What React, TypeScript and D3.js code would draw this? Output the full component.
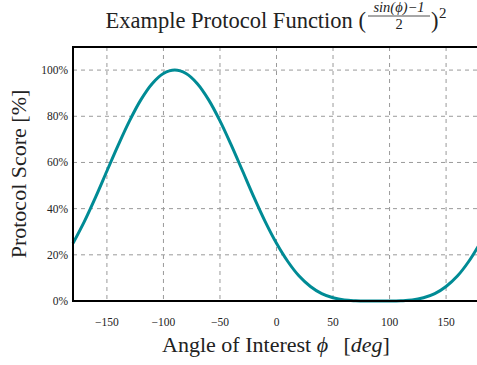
import React, { useEffect, useRef } from 'react';
import * as d3 from 'd3';

// angle of interest (deg) and protocol score (%)
const angles = [
  -180, -170, -160, -150, -140, -130, -120, -110, -100, -90,
  -80, -70, -60, -50, -40, -30, -20, -10, 0,
  10, 20, 30, 40, 50, 60, 70, 80, 90,
  100, 110, 120, 130, 140, 150, 160, 170, 180,
];
const scores = [
  25, 34.4, 45, 56.3, 67.5, 78, 87.1, 94.1, 98.5, 100,
  98.5, 94.1, 87.1, 78, 67.5, 56.3, 45, 34.4, 25,
  17.1, 10.8, 6.3, 3.2, 1.4, 0.4, 0.1, 0, 0,
  0, 0.1, 0.4, 1.4, 3.2, 6.3, 10.8, 17.1, 25,
];
const xTicks = [-150, -100, -50, 0, 50, 100, 150];
const yTicks = [0, 20, 40, 60, 80, 100];

const FONT = '"Liberation Serif", "DejaVu Serif", serif';
const INK = '#222';

const App = () => {
  const svgRef = useRef<SVGSVGElement>(null);

  useEffect(() => {
    const width = 477;
    const height = 365;
    const margin = { top: 47, right: -3, bottom: 64, left: 73 };
    const w = width - margin.left - margin.right;
    const h = height - margin.top - margin.bottom;

    const svg = d3.select(svgRef.current);
    svg.selectAll('*').remove();

    const g = svg.append('g').attr('transform', `translate(${margin.left},${margin.top})`);

    const x = d3.scaleLinear().domain([-180, 180]).range([0, w]);
    const y = d3.scaleLinear().domain([0, 110]).range([h, 0]);

    // grid
    g.selectAll('.vgrid')
      .data(xTicks)
      .join('line')
      .attr('x1', d => x(d))
      .attr('x2', d => x(d))
      .attr('y1', 0)
      .attr('y2', h)
      .attr('stroke', '#9a9a9a')
      .attr('stroke-dasharray', '4,4')
      .attr('stroke-width', 1);

    g.selectAll('.hgrid')
      .data(yTicks.filter(d => d > 0))
      .join('line')
      .attr('x1', 0)
      .attr('x2', w)
      .attr('y1', d => y(d))
      .attr('y2', d => y(d))
      .attr('stroke', '#9a9a9a')
      .attr('stroke-dasharray', '4,4')
      .attr('stroke-width', 1);

    // curve
    const pts = angles.map((a, i) => [a, scores[i]] as [number, number]);
    const line = d3.line<[number, number]>()
      .x(d => x(d[0]))
      .y(d => y(d[1]))
      .curve(d3.curveCatmullRom);

    g.append('path')
      .datum(pts)
      .attr('fill', 'none')
      .attr('stroke', '#008b95')
      .attr('stroke-width', 3)
      .attr('d', line);

    // spines (left, top, bottom)
    g.append('line').attr('x1', 0).attr('x2', 0).attr('y1', 0).attr('y2', h)
      .attr('stroke', '#000').attr('stroke-width', 2);
    g.append('line').attr('x1', -1).attr('x2', w).attr('y1', 0).attr('y2', 0)
      .attr('stroke', '#000').attr('stroke-width', 2);
    g.append('line').attr('x1', -1).attr('x2', w).attr('y1', h).attr('y2', h)
      .attr('stroke', '#000').attr('stroke-width', 2);

    // tick labels
    g.selectAll('.xlab')
      .data(xTicks)
      .join('text')
      .attr('x', d => x(d))
      .attr('y', h + 25)
      .attr('text-anchor', 'middle')
      .style('font-family', FONT)
      .style('font-size', '11.5px')
      .style('fill', INK)
      .text(d => (d < 0 ? '\u2212' + Math.abs(d) : String(d)));

    g.selectAll('.ylab')
      .data(yTicks)
      .join('text')
      .attr('x', -5)
      .attr('y', d => y(d))
      .attr('dy', '0.35em')
      .attr('text-anchor', 'end')
      .style('font-family', FONT)
      .style('font-size', '11.5px')
      .style('fill', INK)
      .text(d => d + '%');

    // axis titles
    const xt = svg.append('text')
      .attr('x', 276)
      .attr('y', 352)
      .attr('text-anchor', 'middle')
      .style('font-family', FONT)
      .style('font-size', '22px')
      .style('fill', INK);
    xt.append('tspan').text('Angle of Interest ');
    xt.append('tspan').style('font-style', 'italic').text('\u03d5');
    xt.append('tspan').text('\u2002\u2009[');
    xt.append('tspan').style('font-style', 'italic').text('deg');
    xt.append('tspan').text(']');

    svg.append('text')
      .attr('transform', `translate(26,${margin.top + h / 2}) rotate(-90)`)
      .attr('text-anchor', 'middle')
      .style('font-family', FONT)
      .style('font-size', '22px')
      .style('fill', INK)
      .text('Protocol Score [%]');

    // title with fraction
    const title = svg.append('g');
    title.append('text')
      .attr('x', 366)
      .attr('y', 28)
      .attr('text-anchor', 'end')
      .style('font-family', FONT)
      .style('font-size', '22.5px')
      .style('fill', INK)
      .text('Example Protocol Function (');
    title.append('text')
      .attr('x', 399)
      .attr('y', 12)
      .attr('text-anchor', 'middle')
      .style('font-family', FONT)
      .style('font-size', '14.5px')
      .style('font-style', 'italic')
      .style('fill', INK)
      .text('sin(\u03d5)\u22121');
    title.append('line')
      .attr('x1', 368).attr('x2', 430).attr('y1', 16).attr('y2', 16)
      .attr('stroke', INK).attr('stroke-width', 0.8);
    title.append('text')
      .attr('x', 399)
      .attr('y', 29)
      .attr('text-anchor', 'middle')
      .style('font-family', FONT)
      .style('font-size', '14.5px')
      .style('fill', INK)
      .text('2');
    title.append('text')
      .attr('x', 431)
      .attr('y', 28)
      .style('font-family', FONT)
      .style('font-size', '22.5px')
      .style('fill', INK)
      .text(')');
    title.append('text')
      .attr('x', 439)
      .attr('y', 18)
      .style('font-family', FONT)
      .style('font-size', '15px')
      .style('fill', INK)
      .text('2');
  }, []);

  return (
    <svg
      ref={svgRef}
      width={477}
      height={365}
      style={{ position: 'absolute', left: 0, top: 0, background: '#fff' }}
    />
  );
};

export default App;
